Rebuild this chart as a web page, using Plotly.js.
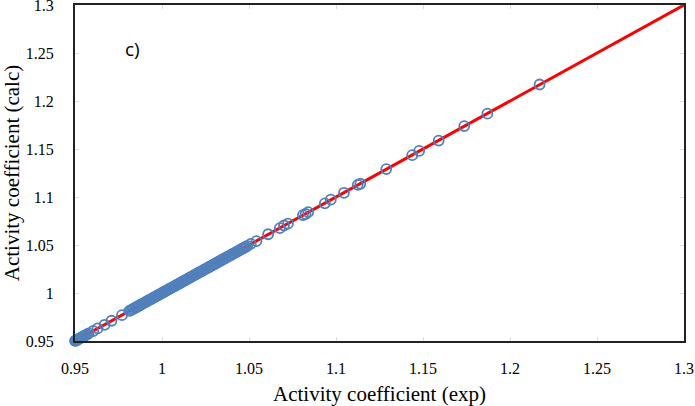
<!DOCTYPE html>
<html><head><meta charset="utf-8">
<script src="https://cdn.plot.ly/plotly-3.0.1.min.js"></script>
<style>body{margin:0;padding:0;background:#fff}#c{width:695px;height:406px}</style>
</head><body><div id="c"></div>
<script>
// Experimental activity coefficients (x) and calculated (y)
const expVals = [
  0.9500,0.9504,0.9508,0.9513,0.9518,0.9524,0.9531,0.9538,0.9546,0.9553,0.9561,0.9570,0.9578,
  0.9605,0.9630,0.9670,0.9710,0.9770,
  0.9812,0.9820,0.9829,0.9836,0.9845,0.9853,0.9861,0.9870,0.9879,0.9887,0.9896,0.9904,0.9913,
  0.9921,0.9930,0.9938,0.9947,0.9955,0.9964,0.9972,0.9981,0.9989,0.9998,1.0006,1.0015,1.0023,
  1.0032,1.0040,1.0049,1.0057,1.0066,1.0074,1.0083,1.0091,1.0100,1.0108,1.0117,1.0125,1.0134,
  1.0142,1.0151,1.0159,1.0168,1.0176,1.0185,1.0193,1.0202,1.0210,1.0219,1.0227,1.0236,1.0244,
  1.0253,1.0261,1.0270,1.0278,1.0287,1.0295,1.0304,1.0312,1.0321,1.0329,1.0338,1.0346,1.0355,
  1.0363,1.0372,1.0380,1.0389,1.0397,1.0406,1.0414,1.0423,1.0431,1.0440,1.0448,1.0457,1.0465,
  1.0474,1.0482,1.0490,
  1.0510,1.0543,1.0610,1.0677,1.0701,1.0724,1.0810,1.0825,1.0840,1.0936,1.0970,1.1046,
  1.1125,1.1140,1.1289,1.1438,1.1478,1.1590,1.1737,1.1870,1.2170
];
const calcVals = [
  0.9501,0.9503,0.9509,0.9512,0.9519,0.9523,0.9532,0.9537,0.9547,0.9552,0.9562,0.9569,0.9579,
  0.9604,0.9631,0.9669,0.9711,0.9769,
  0.9813,0.9819,0.9830,0.9835,0.9846,0.9852,0.9862,0.9869,0.9880,0.9886,0.9897,0.9903,0.9914,
  0.9920,0.9931,0.9937,0.9948,0.9954,0.9965,0.9971,0.9982,0.9988,0.9999,1.0005,1.0016,1.0022,
  1.0033,1.0039,1.0050,1.0056,1.0067,1.0073,1.0084,1.0090,1.0101,1.0107,1.0118,1.0124,1.0135,
  1.0141,1.0152,1.0158,1.0169,1.0175,1.0186,1.0192,1.0203,1.0209,1.0220,1.0226,1.0237,1.0243,
  1.0254,1.0260,1.0271,1.0277,1.0288,1.0294,1.0305,1.0311,1.0322,1.0328,1.0339,1.0345,1.0356,
  1.0362,1.0373,1.0379,1.0390,1.0396,1.0407,1.0413,1.0424,1.0430,1.0441,1.0447,1.0458,1.0464,
  1.0475,1.0481,1.0491,
  1.0512,1.0541,1.0612,1.0675,1.0703,1.0722,1.0812,1.0823,1.0842,1.0934,1.0972,1.1044,
  1.1127,1.1138,1.1291,1.1436,1.1480,1.1588,1.1739,1.1868,1.2172
];
const lineX = [0.95, 1.3];
const lineY = [0.95, 1.3];
const tickVals = [0.95, 1, 1.05, 1.1, 1.15, 1.2, 1.25, 1.3];
const tickText = ['0.95', '1', '1.05', '1.1', '1.15', '1.2', '1.25', '1.3'];

const traces = [
  {x: lineX, y: lineY, type: 'scatter', mode: 'lines', line: {color: '#ff0000', width: 3}, hoverinfo: 'skip', cliponaxis: false},
  {x: expVals, y: calcVals, type: 'scatter', mode: 'markers', cliponaxis: false,
   marker: {symbol: 'circle-open', size: 10, color: '#4f81bd', line: {width: 1.8, color: '#4f81bd'}}}
];
function axis(extra) {
  return Object.assign({
    range: [0.95, 1.3], tickvals: tickVals, ticktext: tickText,
    showgrid: false, zeroline: false,
    showline: true, mirror: 'all', linecolor: '#222', linewidth: 2,
    ticks: 'inside', ticklen: 4, tickcolor: '#dddddd', tickwidth: 1,
    ticklabeloverflow: 'allow',
    tickfont: {family: 'Liberation Serif', size: 16, color: '#000'}
  }, extra);
}
const layout = {
  width: 695, height: 406,
  margin: {l: 75, r: 11, t: 5, b: 65},
  paper_bgcolor: '#fff', plot_bgcolor: '#fff', showlegend: false,
  xaxis: axis({ticklabelstandoff: 12, title: {text: 'Activity coefficient (exp)', standoff: 10, font: {family: 'Liberation Serif', size: 21, color: '#000'}}}),
  yaxis: axis({ticklabelstandoff: 16, title: {text: 'Activity coefficient (calc)', standoff: 0, font: {family: 'Liberation Serif', size: 21, color: '#000'}}}),
  annotations: [{x: 0.095, y: 0.87, xref: 'paper', yref: 'paper', text: 'c)', showarrow: false,
    xanchor: 'center', yanchor: 'middle',
    font: {family: 'Open Sans', size: 19, color: '#000'}}]
};
Plotly.newPlot('c', traces, layout, {displayModeBar: false, staticPlot: true});
</script></body></html>
